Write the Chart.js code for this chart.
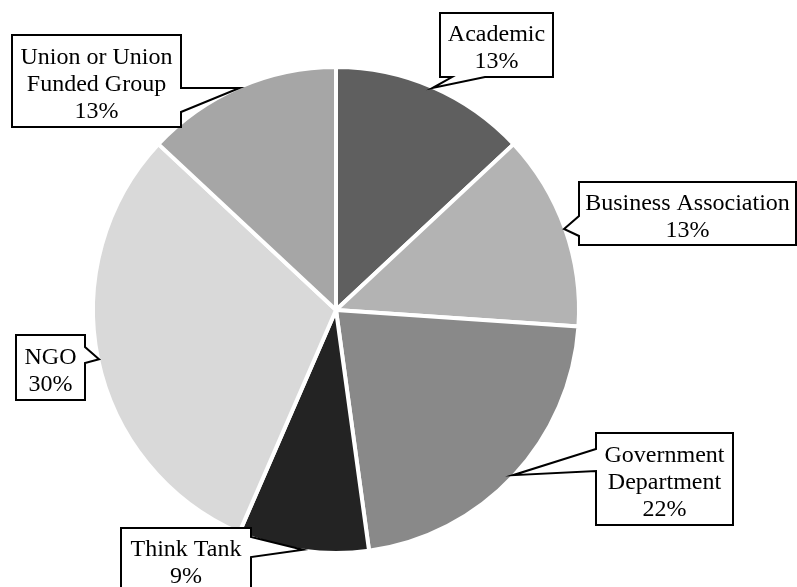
<!DOCTYPE html>
<html>
<head>
<meta charset="utf-8">
<title>Respondents by organisation type</title>
<script src="https://cdn.jsdelivr.net/npm/chart.js@4/dist/chart.umd.min.js"></script>
<style>
  body { margin: 0; background: #fff; }
  #wrap { width: 797px; height: 587px; }
</style>
</head>
<body>
<div id="wrap"><canvas id="pie" width="797" height="587"></canvas></div>
<script>
// organisation types, clockwise from 12 o'clock
let categories = ['Academic', 'Business Association', 'Government Department', 'Think Tank', 'NGO', 'Union or Union Funded Group'];
// number of respondents in each group
let counts = [3, 3, 5, 2, 7, 3];
let sliceColors = ['#5f5f5f', '#b3b3b3', '#898989', '#232323', '#d9d9d9', '#a6a6a6'];

// text lines for each callout (name split the way it wraps in the box)
let labelLines = [
    ['Academic'],
    ['Business Association'],
    ['Government', 'Department'],
    ['Think Tank'],
    ['NGO'],
    ['Union or Union', 'Funded Group']
];

// callout boxes: rect plus the side the pointer leaves from and its base span
let callouts = [
    { x: 440, y: 13, w: 113, h: 64, side: 'bottom', a: 452, b: 485 },
    { x: 579, y: 182, w: 217, h: 63, side: 'left', a: 216, b: 236 },
    { x: 596, y: 433, w: 137, h: 92, side: 'left', a: 449, b: 471 },
    { x: 121, y: 528, w: 130, h: 64, side: 'right', a: 537, b: 557 },
    { x: 16, y: 335, w: 69, h: 65, side: 'right', a: 347, b: 363 },
    { x: 12, y: 35, w: 169, h: 92, side: 'right', a: 88, b: 112 }
];

let total = counts.reduce((s, v) => s + v, 0);

let calloutPlugin = {
    id: 'callouts',
    afterDatasetsDraw(chart) {
        let ctx = chart.ctx;
        let arcs = chart.getDatasetMeta(0).data;
        ctx.save();
        arcs.forEach((arc, i) => {
            let p = arc.getProps(['x', 'y', 'startAngle', 'endAngle', 'outerRadius'], true);
            let mid = (p.startAngle + p.endAngle) / 2;
            let tx = p.x + Math.cos(mid) * (p.outerRadius - 1);
            let ty = p.y + Math.sin(mid) * (p.outerRadius - 1);
            let c = callouts[i];
            let x0 = c.x, y0 = c.y, x1 = c.x + c.w, y1 = c.y + c.h;

            ctx.beginPath();
            ctx.moveTo(x0, y0);
            if (c.side === 'top') { ctx.lineTo(c.a, y0); ctx.lineTo(tx, ty); ctx.lineTo(c.b, y0); }
            ctx.lineTo(x1, y0);
            if (c.side === 'right') { ctx.lineTo(x1, c.a); ctx.lineTo(tx, ty); ctx.lineTo(x1, c.b); }
            ctx.lineTo(x1, y1);
            if (c.side === 'bottom') { ctx.lineTo(c.b, y1); ctx.lineTo(tx, ty); ctx.lineTo(c.a, y1); }
            ctx.lineTo(x0, y1);
            if (c.side === 'left') { ctx.lineTo(x0, c.b); ctx.lineTo(tx, ty); ctx.lineTo(x0, c.a); }
            ctx.closePath();
            ctx.fillStyle = '#ffffff';
            ctx.fill();
            ctx.lineWidth = 2;
            ctx.lineJoin = 'miter';
            ctx.strokeStyle = '#000000';
            ctx.stroke();

            let pct = Math.round(chart.data.datasets[0].data[i] / total * 100) + '%';
            let lines = labelLines[i].concat([pct]);
            let lh = 27;
            let first = y0 + (c.h - lines.length * lh) / 2 + 23;
            ctx.fillStyle = '#000000';
            ctx.font = '24px "Liberation Serif", "Times New Roman", serif';
            ctx.textAlign = 'center';
            ctx.textBaseline = 'alphabetic';
            lines.forEach((t, k) => ctx.fillText(t, x0 + c.w / 2, first + k * lh));
        });
        ctx.restore();
    }
};

new Chart(document.getElementById('pie'), {
    type: 'pie',
    data: {
        labels: categories,
        datasets: [{
            data: counts,
            backgroundColor: sliceColors,
            borderColor: '#ffffff',
            borderWidth: 4,
            hoverOffset: 0
        }]
    },
    options: {
        responsive: false,
        animation: false,
        radius: 243,
        layout: { padding: { left: 0, right: 125, top: 33, bottom: 0 } },
        plugins: {
            legend: { display: false },
            tooltip: { enabled: false }
        }
    },
    plugins: [calloutPlugin]
});
</script>
</body>
</html>
